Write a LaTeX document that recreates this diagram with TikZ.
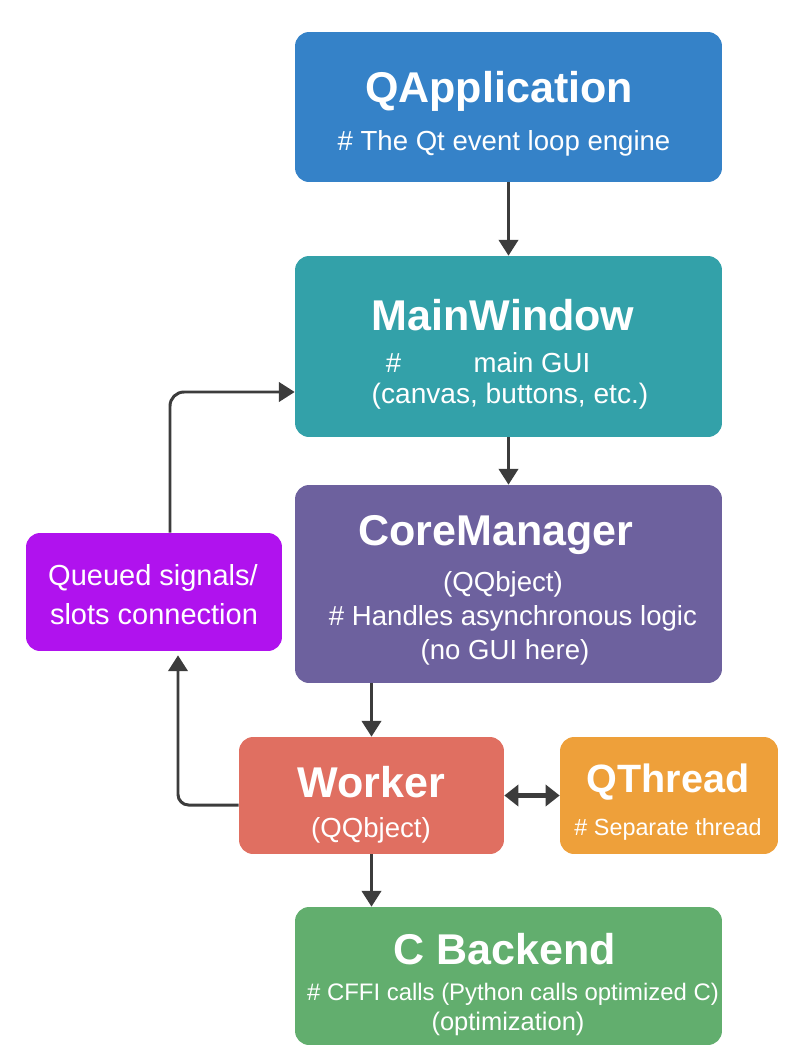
\documentclass[tikz,border=0pt]{standalone}
\usepackage{fontspec}
\setmainfont{Liberation Sans}
\usetikzlibrary{arrows.meta,positioning}

\definecolor{appblue}{HTML}{3582C8}
\definecolor{winteal}{HTML}{33A1A9}
\definecolor{corepurple}{HTML}{6D619E}
\definecolor{queuemagenta}{HTML}{B012EE}
\definecolor{workerred}{HTML}{E06F61}
\definecolor{threadorange}{HTML}{EEA03A}
\definecolor{backgreen}{HTML}{62AE6E}
\definecolor{linkgray}{HTML}{3C3C3C}

\tikzset{
  box/.style={rounded corners=8pt, minimum width=8.54cm, inner sep=0pt},
  title/.style={text=white, font=\fontsize{24.5}{28}\selectfont\bfseries},
  note/.style={text=white, font=\fontsize{15.7}{18}\selectfont},
  link/.style={draw=linkgray, line width=1.7pt, -{Triangle[length=9pt,width=11pt]}},
}

\begin{document}
\begin{tikzpicture}[x=0.02cm, y=-0.02cm]
\useasboundingbox (0,0) rectangle (800,1055);

  % boxes
  \node [box, fill=appblue, minimum height=3.0cm] (qapp) at (508.5,107) {};
  \node [box, fill=winteal, minimum height=3.62cm] (main) at (508.5,346.5) {};
  \node [box, fill=corepurple, minimum height=3.96cm] (core) at (508.5,584) {};
  \node [box, fill=queuemagenta, minimum width=5.12cm, minimum height=2.36cm] (queued) at (154,592) {};
  \node [box, fill=workerred, minimum width=5.3cm, minimum height=2.34cm] (worker) at (371.5,795.5) {};
  \node [box, fill=threadorange, minimum width=4.36cm, minimum height=2.34cm] (qthread) at (669,795.5) {};
  \node [box, fill=backgreen, minimum height=2.76cm] (backend) at (508.5,976) {};

  % texts
  \node [title] (qappT) at (499,91) {QApplication};
  \node [note] (qappN) at (504,143) {\# The Qt event loop engine};

  \node [title] (mainT) at (503,315) {MainWindow};
  \node [note] (mainN) at (488,363) {\#\hspace{37pt} main GUI};
  \node [note, font=\fontsize{16}{19}\selectfont] (mainM) at (510,396) {(canvas, buttons, etc.)};

  \node [title] (coreT) at (496,535) {CoreManager};
  \node [note] (coreN) at (503,584) {(QQbject)};
  \node [note] (coreM) at (513,618) {\# Handles asynchronous logic};
  \node [note] (coreO) at (505,652) {(no GUI here)};

  \node [note, font=\fontsize{16.5}{20}\selectfont] (queuedT) at (153,578) {Queued signals/};
  \node [note, font=\fontsize{16.5}{20}\selectfont] (queuedN) at (154,614) {slots connection};

  \node [title] (workerT) at (371,782) {Worker};
  \node [note] (workerN) at (371,830) {(QQbject)};

  \node [title, font={\fontsize{22.5}{26}\selectfont\bfseries}] (qthreadT) at (668,782) {QThread};
  \node [note, font=\fontsize{13.3}{16}\selectfont] (qthreadN) at (668,829) {\# Separate thread};

  \node [title] (backendT) at (505,949) {C Backend};
  \node [note, font=\fontsize{13.6}{16}\selectfont] (backendN) at (513,994) {\# CFFI calls (Python calls optimized C)};
  \node [note, font=\fontsize{14.5}{17}\selectfont] (backendM) at (508,1024) {(optimization)};

  % connectors
  \draw [link] (qapp.south) -- (main.north);
  \draw [link] (main.south) -- (core.north);
  \draw [link] (worker.north |- core.south) -- (worker.north);
  \draw [link] (worker.south) -- (worker.south |- backend.north);
  \draw [draw=linkgray, line width=2.6pt, {Triangle[length=8pt,width=12pt]}-{Triangle[length=8pt,width=12pt]}] (worker.east) -- (qthread.west);
  \draw [link, rounded corners=6pt] ([yshift=-0.19cm]worker.west) -| ([xshift=0.48cm, yshift=-0.08cm]queued.south);
  \draw [link, rounded corners=8pt] ([xshift=0.32cm]queued.north) |- ([yshift=-0.91cm]main.west);

\end{tikzpicture}
\end{document}
